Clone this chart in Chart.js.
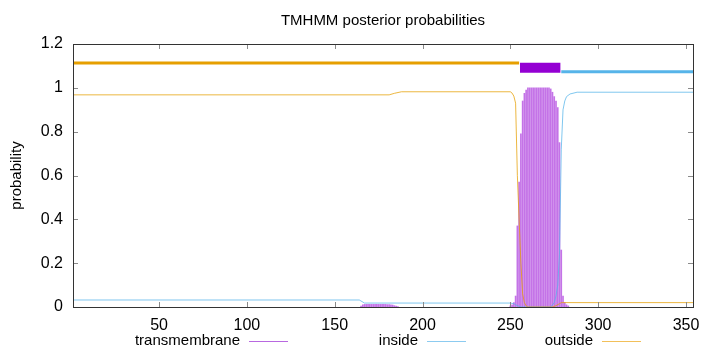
<!DOCTYPE html>
<html>
<head>
<meta charset="utf-8">
<script src="https://cdn.jsdelivr.net/npm/chart.js@4.4.0/dist/chart.umd.min.js"></script>
<style>
  html, body { margin: 0; padding: 0; background: #fff; }
  #wrap { width: 720px; height: 352px; }
</style>
</head>
<body>
<div id="wrap"><canvas id="tmhmm-chart"></canvas></div>
<script>
// residue range and x ticks
const seqStart = 1;
const seqEnd = 354;
const xTickValues = [50, 100, 150, 200, 250, 300, 350];

// predicted topology, shown as bars above the curves
const outsideSpan = [1, 255];
const helixSpan = [255.5, 278.5];
const insideSpan = [279, 354];
const outsideLevel = 1.113;
const helixLevel = 1.092;
const insideLevel = 1.073;

// posterior probability of "outside" (breakpoints of the curve)
const outsideRes  = [1, 181, 184, 188, 250, 251, 252, 253, 254, 255, 256, 257, 258, 259, 260, 274, 276, 278, 279, 354];
const outsideProb = [0.968, 0.968, 0.975, 0.982, 0.982, 0.976, 0.962, 0.93, 0.6, 0.4, 0.2, 0.06, 0.02, 0.005, 0, 0, 0.006, 0.015, 0.02, 0.02];

// posterior probability of "inside"
const insideRes  = [1, 164, 167, 250, 252, 253, 255, 256, 273, 275, 276, 277, 278, 279, 280, 281, 282, 284, 288, 354];
const insideProb = [0.032, 0.032, 0.018, 0.018, 0.015, 0.01, 0.003, 0, 0, 0.02, 0.05, 0.1, 0.24, 0.72, 0.9, 0.94, 0.96, 0.972, 0.98, 0.98];

// transmembrane probability per residue (drawn as impulses)
const tmRes = [165, 166, 167, 168, 169, 170, 171, 172, 173, 174, 175, 176, 177, 178, 179, 180, 181, 182, 183, 184, 185, 186,
               250, 251, 252, 253, 254, 255, 256, 257, 258, 259, 260, 261, 262, 263, 264, 265, 266, 267, 268, 269, 270,
               271, 272, 273, 274, 275, 276, 277, 278, 279, 280, 281, 282, 283];
const tmProb = [0.004, 0.01, 0.012, 0.012, 0.012, 0.012, 0.012, 0.012, 0.012, 0.012, 0.012, 0.012, 0.012, 0.012, 0.012, 0.011, 0.011, 0.01, 0.009, 0.006, 0.004, 0.002,
                0.005, 0.01, 0.02, 0.05, 0.37, 0.57, 0.79, 0.94, 0.975, 0.99, 1, 1, 1, 1, 1, 1, 1, 1, 1, 1, 1,
                1, 1, 0.995, 0.98, 0.96, 0.94, 0.91, 0.75, 0.26, 0.05, 0.02, 0.01, 0.005];

const colTm = "#9400d3";
const colIn = "#56b4e9";
const colOut = "#e69f00";
const fontFamily = "'Liberation Sans', Arial, sans-serif";

function toPoints(xs, ys) {
    return xs.map((x, i) => ({ x: x, y: ys[i] }));
}

// box around the plot with inward ticks on all four sides
const framePlugin = {
    id: "frame",
    afterDatasetsDraw(chart) {
        const { ctx, chartArea: a, scales } = chart;
        ctx.save();
        ctx.lineWidth = 1;
        ctx.strokeStyle = "#8a8a8a";
        ctx.beginPath();
        scales.x.ticks.forEach(t => {
            const px = Math.round(scales.x.getPixelForValue(t.value)) + 0.5;
            ctx.moveTo(px, a.bottom); ctx.lineTo(px, a.bottom - 5);
            ctx.moveTo(px, a.top); ctx.lineTo(px, a.top + 5);
        });
        scales.y.ticks.forEach(t => {
            const py = Math.round(scales.y.getPixelForValue(t.value)) + 0.5;
            ctx.moveTo(a.left, py); ctx.lineTo(a.left + 5, py);
            ctx.moveTo(a.right, py); ctx.lineTo(a.right - 5, py);
        });
        ctx.stroke();
        ctx.strokeStyle = "#333";
        ctx.strokeRect(a.left + 0.5, a.top + 0.5, a.right - a.left, a.bottom - a.top);
        ctx.restore();
    }
};

// gnuplot style key: text right aligned, line sample after it
const keyPlugin = {
    id: "key",
    afterDraw(chart) {
        const ctx = chart.ctx;
        const items = [
            { label: "transmembrane", color: "#b868e0", right: 240 },
            { label: "inside", color: "#8ccbf0", right: 418 },
            { label: "outside", color: "#f2c05a", right: 593 },
        ];
        ctx.save();
        ctx.font = "15px " + fontFamily;
        ctx.textAlign = "right";
        ctx.textBaseline = "middle";
        items.forEach(it => {
            ctx.fillStyle = "#000";
            ctx.fillText(it.label, it.right, 341);
            ctx.strokeStyle = it.color;
            ctx.lineWidth = 1.2;
            ctx.beginPath();
            ctx.moveTo(it.right + 9, 341.5);
            ctx.lineTo(it.right + 48, 341.5);
            ctx.stroke();
        });
        ctx.restore();
    }
};

document.addEventListener("DOMContentLoaded", () => {
    const ctx = document.getElementById("tmhmm-chart").getContext("2d");
    new Chart(ctx, {
        type: "line",
        data: {
            datasets: [
                {
                    label: "outside topology",
                    data: toPoints(outsideSpan, [outsideLevel, outsideLevel]),
                    borderColor: colOut,
                    borderWidth: 3,
                    order: 1,
                },
                {
                    label: "helix topology",
                    data: toPoints(helixSpan, [helixLevel, helixLevel]),
                    borderColor: colTm,
                    borderWidth: 10,
                    order: 1,
                },
                {
                    label: "inside topology",
                    data: toPoints(insideSpan, [insideLevel, insideLevel]),
                    borderColor: colIn,
                    borderWidth: 3,
                    order: 1,
                },
                {
                    label: "outside",
                    data: toPoints(outsideRes, outsideProb),
                    borderColor: "rgba(230,159,0,0.75)",
                    borderWidth: 1,
                    order: 2,
                },
                {
                    label: "inside",
                    data: toPoints(insideRes, insideProb),
                    borderColor: "rgba(86,180,233,0.75)",
                    borderWidth: 1,
                    order: 2,
                },
                {
                    type: "bar",
                    label: "transmembrane",
                    data: toPoints(tmRes, tmProb),
                    backgroundColor: "rgba(148,0,211,0.55)",
                    borderWidth: 0,
                    barThickness: 1,
                    grouped: false,
                    order: 3,
                },
            ],
        },
        options: {
            responsive: true,
            maintainAspectRatio: false,
            animation: false,
            elements: {
                point: { radius: 0 },
                line: { tension: 0, fill: false, borderCapStyle: "butt" },
            },
            layout: { padding: { left: 0, right: 27, top: 0, bottom: 0 } },
            plugins: {
                legend: { display: false },
                tooltip: { enabled: false },
                title: {
                    display: true,
                    text: "TMHMM posterior probabilities",
                    fullSize: false,
                    color: "#000",
                    font: { family: fontFamily, size: 15, weight: "normal" },
                    padding: { top: 12, bottom: 14 },
                },
            },
            scales: {
                x: {
                    type: "linear",
                    min: seqStart,
                    max: seqEnd,
                    offset: false,
                    grid: { display: false, drawTicks: false },
                    border: { display: false },
                    afterBuildTicks: s => { s.ticks = xTickValues.map(v => ({ value: v })); },
                    afterFit: s => { s.height = 45; },
                    ticks: {
                        color: "#000",
                        autoSkip: false,
                        maxRotation: 0,
                        padding: 9,
                        font: { family: fontFamily, size: 16 },
                    },
                },
                y: {
                    min: 0,
                    max: 1.2,
                    grid: { display: false, drawTicks: false },
                    border: { display: false },
                    afterFit: s => { s.width = 73; },
                    ticks: {
                        stepSize: 0.2,
                        color: "#000",
                        padding: 10,
                        font: { family: fontFamily, size: 16 },
                        callback: v => String(+v.toFixed(1)),
                    },
                    title: {
                        display: true,
                        text: "probability",
                        color: "#000",
                        padding: { top: 8, bottom: 0 },
                        font: { family: fontFamily, size: 15 },
                    },
                },
            },
        },
        plugins: [framePlugin, keyPlugin],
    });
});
</script>
</body>
</html>
